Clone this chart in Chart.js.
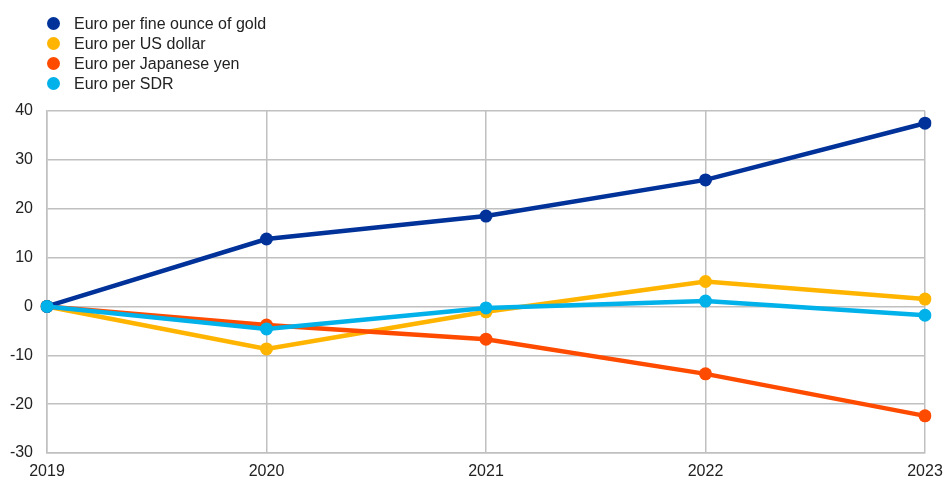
<!DOCTYPE html>
<html>
<head>
<meta charset="utf-8">
<script src="https://cdn.jsdelivr.net/npm/chart.js@4.4.1/dist/chart.umd.min.js"></script>
<style>
  html, body { margin: 0; padding: 0; background: #fff; }
  #wrap { position: relative; width: 945px; height: 481px; }
  #legend { position: absolute; left: 47px; top: 14px; font-family: "Liberation Sans", Arial, sans-serif; font-size: 16px; color: #222; }
  #legend div { height: 20px; line-height: 20px; white-space: nowrap; }
  #legend span { display: inline-block; width: 13px; height: 13px; border-radius: 50%; vertical-align: -1px; margin-right: 14px; }
</style>
</head>
<body>
<div id="wrap">
  <canvas id="chart" width="945" height="481"></canvas>
  <div id="legend"></div>
</div>
<script>
// years on the x axis
const years = ['2019', '2020', '2021', '2022', '2023'];

// percentage changes since 2019
const goldValues = [0, 13.8, 18.5, 25.9, 37.5];
const usdValues = [0, -8.7, -1.1, 5.1, 1.5];
const yenValues = [0, -3.8, -6.7, -13.8, -22.4];
const sdrValues = [0, -4.6, -0.3, 1.1, -1.8];

const seriesNames = ['Euro per fine ounce of gold', 'Euro per US dollar', 'Euro per Japanese yen', 'Euro per SDR'];
const seriesColors = ['#003299', '#FFB400', '#FF4B00', '#00B1EA'];

const yMin = -30;
const yMax = 40;
const yStep = 10;

function makeSet(i, values, order) {
  return {
    label: seriesNames[i],
    data: values,
    borderColor: seriesColors[i],
    backgroundColor: seriesColors[i],
    borderWidth: 4.5,
    pointRadius: 6.5,
    pointHoverRadius: 6.5,
    pointBorderWidth: 0,
    tension: 0,
    order: order
  };
}

// html legend, one entry per row like the original
const $legend = document.querySelector('#legend');
seriesNames.forEach((name, i) => {
  const row = document.createElement('div');
  row.innerHTML = '<span style="background:' + seriesColors[i] + '"></span>' + name;
  $legend.appendChild(row);
});

const tickFont = { family: 'Liberation Sans', size: 16 };

new Chart(document.querySelector('#chart'), {
  type: 'line',
  data: {
    labels: years,
    datasets: [
      makeSet(0, goldValues, 1),
      makeSet(1, usdValues, 3),
      makeSet(2, yenValues, 2),
      makeSet(3, sdrValues, 0)
    ]
  },
  options: {
    responsive: false,
    animation: false,
    layout: { padding: { top: 111, left: 0, right: 20, bottom: 0 } },
    plugins: { legend: { display: false }, tooltip: { enabled: false } },
    scales: {
      x: {
        offset: false,
        grid: { color: '#c0c0c0', lineWidth: 1.5, drawTicks: false },
        border: { color: '#c0c0c0', width: 1.5 },
        ticks: { color: '#222', padding: 9, maxRotation: 0, font: tickFont },
        afterFit: (scale) => {
          scale.height = 28;
          scale.paddingLeft = 0;
          scale.paddingRight = 0;
        }
      },
      y: {
        min: yMin,
        max: yMax,
        grid: { color: '#c0c0c0', lineWidth: 1.5, drawTicks: false },
        border: { color: '#c0c0c0', width: 1.5 },
        ticks: { stepSize: yStep, color: '#222', padding: 14, font: tickFont },
        afterFit: (scale) => {
          scale.width = 47;
          scale.paddingTop = 0;
          scale.paddingBottom = 0;
        }
      }
    }
  }
});
</script>
</body>
</html>
